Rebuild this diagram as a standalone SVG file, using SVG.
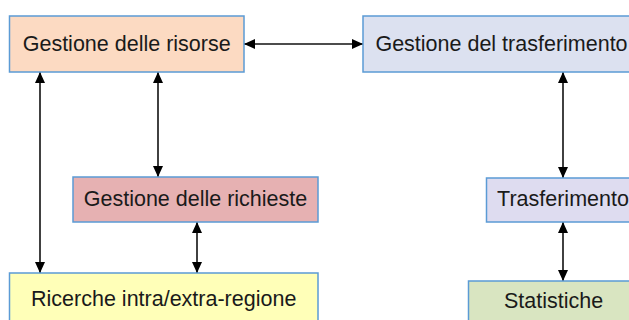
<svg xmlns="http://www.w3.org/2000/svg" width="629" height="320" viewBox="0 0 629 320">
  <style>
    .box { stroke: #5b9bd5; stroke-width: 1.5; }
    .lbl { font-family: "Liberation Sans", Arial, sans-serif; font-size: 21.5px; fill: #1a1a1a; text-anchor: middle; }
    .link { stroke: #111; stroke-width: 1.6; fill: none; marker-start: url(#head); marker-end: url(#head); }
  </style>
  <defs>
    <marker id="head" viewBox="0 0 11 10" refX="11" refY="5" markerWidth="11" markerHeight="10" markerUnits="userSpaceOnUse" orient="auto-start-reverse">
      <path d="M0,0 L11,5 L0,10 Z" fill="#000"/>
    </marker>
  </defs>

  <rect width="629" height="320" fill="#fff"/>

  <g id="connectors">
    <line class="link" x1="244" y1="44" x2="363" y2="44"/>
    <line class="link" x1="40" y1="72" x2="40" y2="273"/>
    <line class="link" x1="158" y1="72" x2="158" y2="177"/>
    <line class="link" x1="197" y1="222" x2="197" y2="273"/>
    <line class="link" x1="563" y1="72" x2="563" y2="178"/>
    <line class="link" x1="563" y1="222" x2="563" y2="281"/>
  </g>

  <g id="gestione-risorse">
    <rect class="box" x="9.5" y="16" width="234.5" height="56" fill="#fcdac2"/>
    <text class="lbl" x="126.7" y="51">Gestione delle risorse</text>
  </g>

  <g id="gestione-trasferimento">
    <rect class="box" x="363" y="16" width="277" height="56" fill="#dce1f0"/>
    <text class="lbl" x="501.5" y="51">Gestione del trasferimento</text>
  </g>

  <g id="gestione-richieste">
    <rect class="box" x="73" y="177" width="245" height="45" fill="#e6b1b2"/>
    <text class="lbl" x="195.5" y="206">Gestione delle richieste</text>
  </g>

  <g id="ricerche">
    <rect class="box" x="9.5" y="273" width="308.5" height="56" fill="#ffffb8"/>
    <text class="lbl" x="163.7" y="306">Ricerche intra/extra-regione</text>
  </g>

  <g id="trasferimento">
    <rect class="box" x="486.5" y="178" width="153" height="44" fill="#dedcf0"/>
    <text class="lbl" x="563" y="206">Trasferimento</text>
  </g>

  <g id="statistiche">
    <rect class="box" x="468.5" y="281" width="171" height="50" fill="#d9e5c1"/>
    <text class="lbl" x="553.5" y="308">Statistiche</text>
  </g>
</svg>
